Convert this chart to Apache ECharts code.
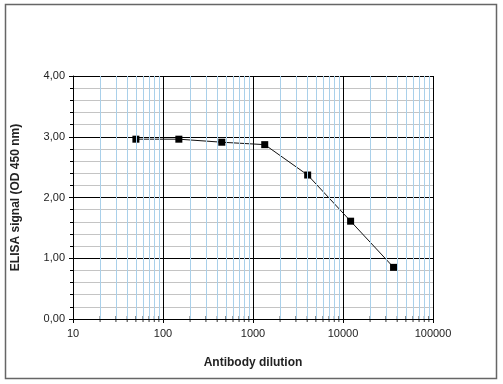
<!DOCTYPE html>
<html><head><meta charset="utf-8">
<script src="https://cdn.jsdelivr.net/npm/echarts@6/dist/echarts.min.js"></script>
<style>html,body{margin:0;padding:0;background:#fff}#c{width:503px;height:384px}</style>
</head><body><div id="c"></div>
<script>
var dilutions = [50, 150, 450, 1350, 4050, 12150, 36450];
var signals = [2.96, 2.96, 2.91, 2.87, 2.37, 1.61, 0.85];
var yTicks = [0, 1, 2, 3, 4];
var xTicks = [10, 100, 1000, 10000, 100000];
var xTitle = 'Antibody dilution';
var yTitle = 'ELISA signal (OD 450 nm)';

var minorX = [];
for (var d = 10; d < 100000; d *= 10) {
  for (var k = 2; k <= 9; k++) minorX.push(d * k);
}
var font = 'Liberation Sans, Arial, sans-serif';
var chart = echarts.init(document.getElementById('c'), null, {renderer: 'canvas'});
chart.setOption({
  backgroundColor: '#fff',
  animation: false,
  graphic: [{
    type: 'rect', shape: {x: 5.5, y: 4.5, width: 491, height: 374},
    style: {fill: 'none', stroke: '#666', lineWidth: 1.5}, silent: true
  }],
  grid: {left: 73, right: 70, top: 76, bottom: 65},
  xAxis: {
    type: 'log', logBase: 10, min: xTicks[0], max: xTicks[xTicks.length - 1],
    name: xTitle, nameLocation: 'middle', nameGap: 38,
    nameTextStyle: {fontFamily: font, fontSize: 12, fontWeight: 'bold', color: '#222'},
    axisLine: {show: true, lineStyle: {color: '#000', width: 1}},
    axisTick: {show: true, length: 4, lineStyle: {color: '#000'}},
    axisLabel: {fontFamily: font, fontSize: 11, color: '#222', margin: 9,
      formatter: function (v) { return String(Math.round(v)); }},
    splitLine: {show: true, lineStyle: {color: '#000', width: 1}}
  },
  yAxis: {
    type: 'value', min: yTicks[0], max: yTicks[yTicks.length - 1], interval: 1,
    name: yTitle, nameLocation: 'middle', nameGap: 51,
    nameTextStyle: {fontFamily: font, fontSize: 12, fontWeight: 'bold', color: '#222'},
    axisLine: {show: true, lineStyle: {color: '#000', width: 1}},
    axisTick: {show: true, length: 4, lineStyle: {color: '#000'}},
    minorTick: {show: true, splitNumber: 5, length: 3, lineStyle: {color: '#000'}},
    minorSplitLine: {show: true, lineStyle: {color: '#c4c4c4', width: 1}},
    axisLabel: {fontFamily: font, fontSize: 11, color: '#222', margin: 8,
      formatter: function (v) { return v.toFixed(2).replace('.', ','); }},
    splitLine: {show: true, lineStyle: {color: '#000', width: 1}}
  },
  series: [
    {
      type: 'line', z: -1, data: [], silent: true,
      markLine: {
        silent: true, symbol: ['none', 'none'], label: {show: false},
        lineStyle: {color: '#a9d0ea', width: 1, type: 'solid'},
        data: minorX.map(function (v) { return {xAxis: v}; })
      }
    },
    {
      type: 'scatter', silent: true, symbol: 'rect', symbolSize: [1, 6],
      itemStyle: {color: '#000'},
      data: minorX.map(function (v) { return [v, 0]; })
    },
    {
      type: 'line',
      data: dilutions.map(function (x, i) { return [x, signals[i]]; }),
      symbol: 'rect', symbolSize: 7, showAllSymbol: true,
      lineStyle: {color: '#111', width: 1},
      itemStyle: {color: '#000'}
    }
  ]
});
</script></body></html>
